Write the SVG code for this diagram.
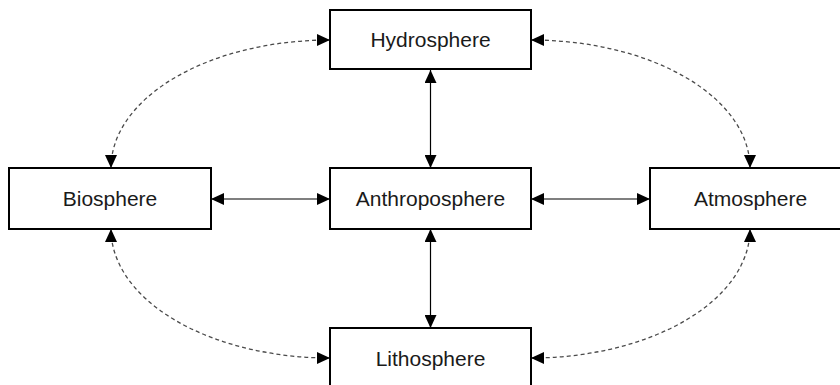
<svg xmlns="http://www.w3.org/2000/svg" width="840" height="385" viewBox="0 0 840 385">
  <style>
    .box { fill: #ffffff; stroke: #000000; stroke-width: 2; }
    .label { font-family: "Liberation Sans", Arial, sans-serif; font-size: 21px; fill: #1a1a1a; text-anchor: middle; }
    .solid { fill: none; stroke: #000000; stroke-width: 1.2; marker-start: url(#arrow); marker-end: url(#arrow); }
    .dashed { fill: none; stroke: #4a4a4a; stroke-width: 1.3; stroke-dasharray: 4 3; marker-start: url(#arrow); marker-end: url(#arrow); }
  </style>
  <defs>
    <marker id="arrow" viewBox="0 0 13 12" refX="13" refY="6" markerWidth="13" markerHeight="12" markerUnits="userSpaceOnUse" orient="auto-start-reverse">
      <path d="M0,0 L13,6 L0,12 Z" fill="#000000"/>
    </marker>
  </defs>
  <rect width="840" height="385" fill="#ffffff"/>
  <g id="connectors">
    <path class="solid" d="M211,199 L330,199"/>
    <path class="solid" d="M531,199 L650,199"/>
    <path class="solid" d="M430.5,70 L430.5,168"/>
    <path class="solid" d="M430.5,229 L430.5,328"/>
    <path class="dashed" d="M330,40 A219,128 0 0 0 111,168"/>
    <path class="dashed" d="M531,40 A219,128 0 0 1 750,168"/>
    <path class="dashed" d="M111,229 A219,129 0 0 0 330,358"/>
    <path class="dashed" d="M750,229 A219,129 0 0 1 531,358"/>
  </g>
  <g id="hydrosphere">
    <rect class="box" x="330" y="10" width="201" height="59"/>
    <text class="label" x="430.5" y="47">Hydrosphere</text>
  </g>
  <g id="biosphere">
    <rect class="box" x="9" y="168" width="202" height="61"/>
    <text class="label" x="110" y="206">Biosphere</text>
  </g>
  <g id="anthroposphere">
    <rect class="box" x="330" y="168" width="201" height="61"/>
    <text class="label" x="430.5" y="206">Anthroposphere</text>
  </g>
  <g id="atmosphere">
    <rect class="box" x="650" y="168" width="201" height="61"/>
    <text class="label" x="750.5" y="206">Atmosphere</text>
  </g>
  <g id="lithosphere">
    <rect class="box" x="330" y="328" width="201" height="61"/>
    <text class="label" x="430.5" y="366">Lithosphere</text>
  </g>
</svg>
